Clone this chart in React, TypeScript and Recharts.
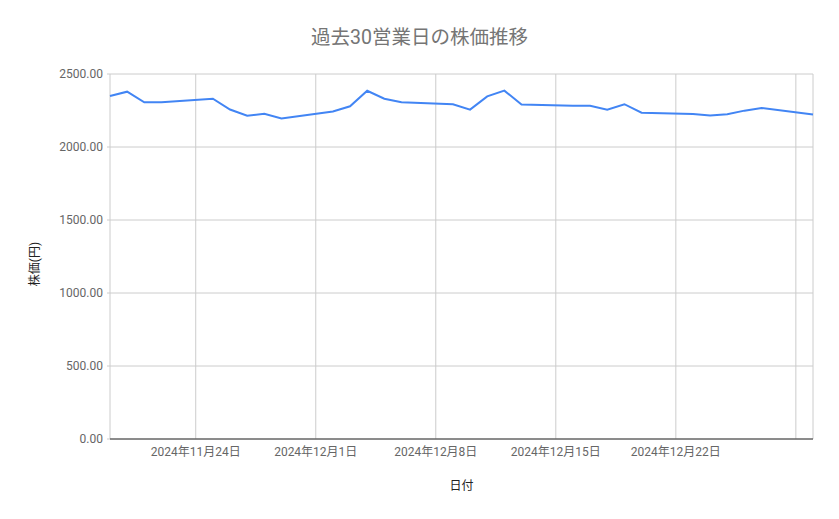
import React from 'react';
import { LineChart, Line, XAxis, YAxis, CartesianGrid, Label } from 'recharts';

const dates = [
  '2024-11-19', '2024-11-20', '2024-11-21', '2024-11-22',
  '2024-11-25', '2024-11-26', '2024-11-27', '2024-11-28', '2024-11-29',
  '2024-12-02', '2024-12-03', '2024-12-04', '2024-12-05', '2024-12-06',
  '2024-12-09', '2024-12-10', '2024-12-11', '2024-12-12', '2024-12-13',
  '2024-12-16', '2024-12-17', '2024-12-18', '2024-12-19', '2024-12-20',
  '2024-12-23', '2024-12-24', '2024-12-25', '2024-12-26', '2024-12-27',
  '2024-12-30',
];

const prices = [
  2349, 2379, 2306, 2307,
  2331, 2257, 2214, 2228, 2196,
  2243, 2279, 2385, 2331, 2306,
  2293, 2256, 2347, 2386, 2291,
  2283, 2283, 2256, 2293, 2235,
  2226, 2215, 2224, 2249, 2267,
  2222,
];

const tickDates = ['2024-11-24', '2024-12-01', '2024-12-08', '2024-12-15', '2024-12-22', '2024-12-29'];
const labeledTicks = ['2024-11-24', '2024-12-01', '2024-12-08', '2024-12-15', '2024-12-22'];
const yTicks = [0, 500, 1000, 1500, 2000, 2500];

const domainStart = '2024-11-19';
const domainEnd = '2024-12-30';

const DAY = 86400000;
const toDay = (s: string) => {
  const [y, m, d] = s.split('-').map(Number);
  return Date.UTC(y, m - 1, d) / DAY;
};
const fmtDate = (day: number) => {
  const dt = new Date(day * DAY);
  return `${dt.getUTCFullYear()}年${dt.getUTCMonth() + 1}月${dt.getUTCDate()}日`;
};

const data = dates.map((d, i) => ({ day: toDay(d), price: prices[i] }));
const labeledSet = new Set(labeledTicks.map(toDay));

const FONT = "Roboto, 'Noto Sans CJK JP', sans-serif";

export default function App() {
  return (
    <div style={{ position: 'absolute', left: 0, top: 0, width: 839, height: 519, background: '#fff', fontFamily: FONT }}>
      <div
        style={{
          position: 'absolute', left: 0, top: 26, width: 839, textAlign: 'center',
          fontSize: 19.5, lineHeight: '24px', color: '#757575', fontFamily: FONT,
        }}
      >
        過去30営業日の株価推移
      </div>
      <LineChart width={839} height={519} data={data} margin={{ top: 74, right: 26, bottom: 0, left: 0 }}>
        <CartesianGrid stroke="#cccccc" strokeWidth={1} />
        <XAxis
          dataKey="day"
          type="number"
          domain={[toDay(domainStart), toDay(domainEnd)]}
          ticks={tickDates.map(toDay)}
          tickFormatter={(v: number) => (labeledSet.has(v) ? fmtDate(v) : '')}
          interval={0}
          height={80}
          tickSize={0}
          tickMargin={8}
          axisLine={{ stroke: '#333333', strokeWidth: 1 }}
          tickLine={false}
          tick={{ fontSize: 12, fill: '#666666', fontFamily: FONT }}
        >
          <Label value="日付" position="insideBottom" offset={29} style={{ fontSize: 12, fill: '#222222', fontFamily: FONT }} />
        </XAxis>
        <YAxis
          type="number"
          domain={[0, 2500]}
          ticks={yTicks}
          width={110}
          tickFormatter={(v: number) => v.toFixed(2)}
          axisLine={false}
          tickSize={3}
          tickMargin={4}
          tickLine={{ stroke: '#cccccc' }}
          tick={{ fontSize: 12, fill: '#666666', fontFamily: FONT }}
        >
          <Label
            content={(props: any) => {
              const vb = props.viewBox || {};
              const cx = (vb.x || 0) + 35;
              const cy = (vb.y || 0) + (vb.height || 0) / 2 + 7.5;
              return (
                <text
                  x={cx}
                  y={cy}
                  transform={`rotate(-90, ${cx}, ${cy})`}
                  textAnchor="middle"
                  dominantBaseline="central"
                  style={{ fontSize: 12, fill: '#222222', fontFamily: FONT }}
                >
                  株価(円)
                </text>
              );
            }}
          />
        </YAxis>
        <Line
          type="linear"
          dataKey="price"
          stroke="#4285f4"
          strokeWidth={2}
          dot={false}
          isAnimationActive={false}
        />
      </LineChart>
    </div>
  );
}
